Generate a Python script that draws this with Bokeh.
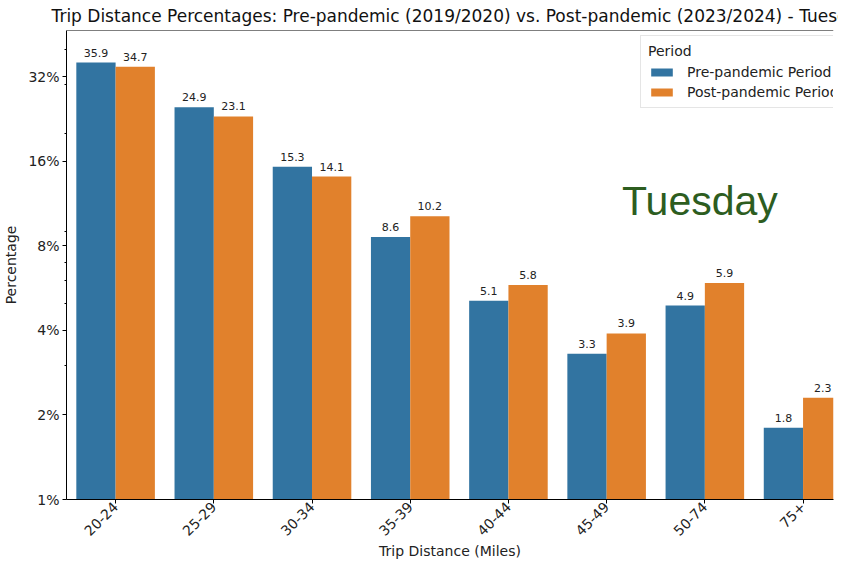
import numpy as np
from bokeh.plotting import figure
from bokeh.models import (Range1d, FixedTicker, PrintfTickFormatter, Legend, LegendItem,
                          Label, Span, ColumnDataSource)
from bokeh.transform import dodge
from bokeh.core.properties import value
from bokeh.embed import file_html
from bokeh.resources import INLINE

# ---- data ----
categories = ["20-24", "25-29", "30-34", "35-39", "40-44", "45-49", "50-74", "75+"]
pre_pandemic = [35.9, 24.9, 15.3, 8.6, 5.1, 3.3, 4.9, 1.8]
post_pandemic = [34.7, 23.1, 14.1, 10.2, 5.8, 3.9, 5.9, 2.3]
series_names = ["Pre-pandemic Period", "Post-pandemic Period"]
y_ticks = [1, 2, 4, 8, 16, 32]
y_minor_ticks = [3, 5, 6, 7, 9, 20, 30, 40]
colors = ["#3274a1", "#e1812c"]
title_text = "Trip Distance Percentages: Pre-pandemic (2019/2020) vs. Post-pandemic (2023/2024) - Tuesday"

idx = list(range(len(categories)))
src = ColumnDataSource(dict(
    x=idx, cat=categories, pre=pre_pandemic, post=post_pandemic,
    pre_lbl=[f"{v:.1f}" for v in pre_pandemic],
    post_lbl=[f"{v:.1f}" for v in post_pandemic],
))

FONT = "DejaVu Sans"
Y_TOP = 46.7

p = figure(width=838, height=562, output_backend="svg", toolbar_location=None,
           y_axis_type="log", x_range=Range1d(-0.5, 7.31), y_range=Range1d(1, Y_TOP),
           title=title_text,
           min_border_left=58, min_border_right=5, min_border_top=30, min_border_bottom=56)

p.background_fill_color = "white"
p.border_fill_color = "white"
p.outline_line_color = None
p.xgrid.visible = False
p.ygrid.visible = False

bw = 0.4
r_pre = p.vbar(x=dodge("x", -bw / 2), top="pre", bottom=1, width=bw, source=src,
               fill_color=colors[0], line_color=None)
r_post = p.vbar(x=dodge("x", bw / 2), top="post", bottom=1, width=bw, source=src,
                fill_color=colors[1], line_color=None)

for col, lbl, off in (("pre", "pre_lbl", -bw / 2), ("post", "post_lbl", bw / 2)):
    p.text(x=dodge("x", off), y=col, text=lbl, source=src,
           text_align="center", text_baseline="alphabetic", y_offset=-10,
           text_font=value(FONT), text_font_size="11px", text_color="#222222")

# top spine
p.add_layout(Span(location=Y_TOP, dimension="width", line_color="black", line_width=1))

# axes
p.yaxis.ticker = FixedTicker(ticks=y_ticks, minor_ticks=y_minor_ticks)
p.yaxis.formatter = PrintfTickFormatter(format="%d%%")
p.xaxis.ticker = FixedTicker(ticks=idx)
p.xaxis.major_label_overrides = {i: c for i, c in enumerate(categories)}
p.xaxis.major_label_orientation = np.pi / 4

for ax in (p.xaxis[0], p.yaxis[0]):
    ax.axis_line_color = "black"
    ax.axis_line_width = 1
    ax.major_tick_line_color = "black"
    ax.minor_tick_line_color = "black"
    ax.major_tick_in = 0
    ax.major_tick_out = 4
    ax.minor_tick_in = 0
    ax.minor_tick_out = 2
    ax.major_label_text_font = FONT
    ax.major_label_text_font_size = "14px"
    ax.major_label_text_color = "#222222"
    ax.axis_label_text_font = FONT
    ax.axis_label_text_font_size = "14px"
    ax.axis_label_text_font_style = "normal"
    ax.axis_label_text_color = "#222222"

p.xaxis.major_label_standoff = 1
p.yaxis.major_label_standoff = 3
p.xaxis.axis_label = "Trip Distance (Miles)"
p.yaxis.axis_label = "Percentage"
p.xaxis.axis_label_standoff = 0
p.yaxis.axis_label_standoff = 6

p.title.text_font = FONT
p.title.text_font_size = "17px"
p.title.text_font_style = "normal"
p.title.text_color = "#111111"
p.title.align = "left"
p.title.vertical_align = "top"
p.title.offset = -15
p.title.standoff = 6

# annotation
p.add_layout(Label(x=5.95, y=11.5, text="Tuesday", text_align="center",
                   text_baseline="alphabetic", text_font="Liberation Sans",
                   text_font_size="41px", text_color="#2d5d1f"))

legend = Legend(items=[LegendItem(label=series_names[0], renderers=[r_pre]),
                       LegendItem(label=series_names[1], renderers=[r_post])],
                location=(574, 391), title="Period")
legend.title_text_font = FONT
legend.title_text_font_size = "14px"
legend.title_text_font_style = "normal"
legend.title_text_color = "#222222"
legend.title_standoff = 5
legend.label_text_font = FONT
legend.label_text_font_size = "14px"
legend.label_text_color = "#222222"
legend.glyph_width = 27
legend.glyph_height = 10
legend.label_height = 10
legend.spacing = 4
legend.padding = 7
legend.label_standoff = 12
legend.margin = 0
legend.border_line_color = "#cccccc"
legend.border_line_width = 1
legend.background_fill_color = "white"
legend.background_fill_alpha = 0.8
p.add_layout(legend)

open("out.html", "w").write(file_html(p, INLINE))
